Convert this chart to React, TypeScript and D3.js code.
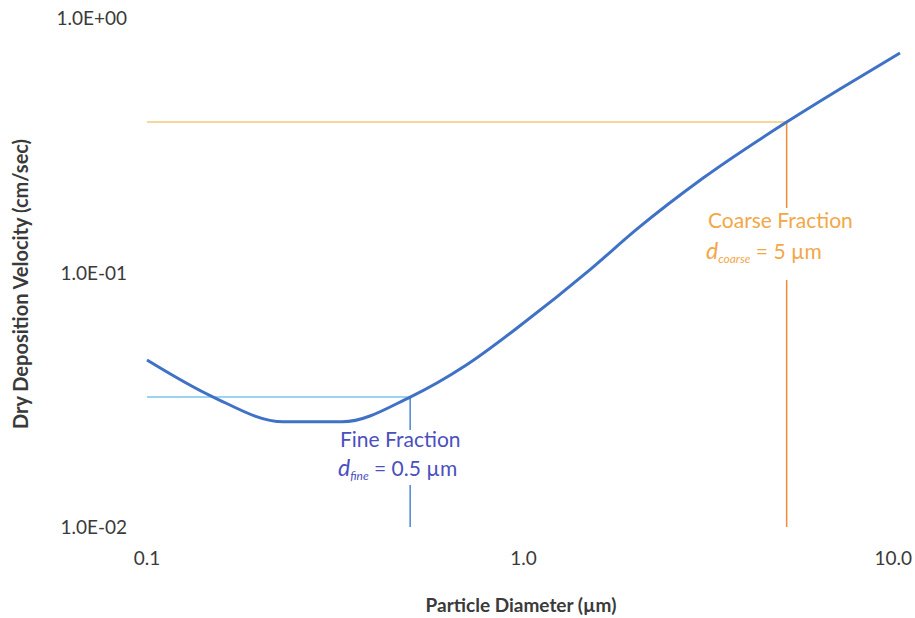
import * as d3 from 'd3';
import { useEffect, useRef } from 'react';

// particle diameter (um) and dry deposition velocity (cm/sec)
const diameters = [0.1, 0.15, 0.23, 0.33, 0.5, 0.7, 1.0, 1.5, 2.0, 3.0, 5.0, 7.0, 10.0];
const velocities = [0.0453, 0.0324, 0.0259, 0.0259, 0.0324, 0.043, 0.0633, 0.1024, 0.148, 0.235, 0.39, 0.531, 0.729];

const xTicks = [0.1, 1, 10];
const xTickLabels = ['0.1', '1.0', '10.0'];
const yTicks = [0.01, 0.1, 1];
const yTickLabels = ['1.0E-02', '1.0E-01', '1.0E+00'];

const fineD = 0.5;
const fineV = 0.0324;
const coarseD = 5;
const coarseV = 0.39;

const FONT = 'Lato, "Open Sans", sans-serif';

export default function App() {
  const ref = useRef<SVGSVGElement>(null);

  useEffect(() => {
    if (!ref.current) return;
    const svg = d3.select(ref.current);
    svg.selectAll('*').remove();

    const x = d3.scaleLog().domain([0.1, 10]).range([147, 900]);
    const y = d3.scaleLog().domain([0.01, 1]).range([527, 18]);

    // reference lines - coarse
    svg
      .append('line')
      .attr('x1', x(0.1))
      .attr('x2', x(coarseD))
      .attr('y1', y(coarseV))
      .attr('y2', y(coarseV))
      .attr('stroke', '#f6c777')
      .attr('stroke-width', 1.5);
    svg
      .append('line')
      .attr('x1', x(coarseD))
      .attr('x2', x(coarseD))
      .attr('y1', y(coarseV))
      .attr('y2', y(0.01))
      .attr('stroke', '#f08a3c')
      .attr('stroke-width', 1.5);

    // reference lines - fine
    svg
      .append('line')
      .attr('x1', x(0.1))
      .attr('x2', x(fineD))
      .attr('y1', y(fineV))
      .attr('y2', y(fineV))
      .attr('stroke', '#7cc4ea')
      .attr('stroke-width', 1.5);
    svg
      .append('line')
      .attr('x1', x(fineD))
      .attr('x2', x(fineD))
      .attr('y1', y(fineV))
      .attr('y2', y(0.01))
      .attr('stroke', '#4a86d0')
      .attr('stroke-width', 1.5);

    // label boxes hide part of the vertical lines
    svg.append('rect').attr('x', x(coarseD) - 12).attr('y', 208).attr('width', 24).attr('height', 72).attr('fill', 'white');
    svg.append('rect').attr('x', x(fineD) - 12).attr('y', 430).attr('width', 24).attr('height', 55).attr('fill', 'white');

    // curve
    const line = d3
      .line<number>()
      .x((d) => x(d))
      .y((_, i) => y(velocities[i]))
      .curve(d3.curveMonotoneX);
    svg
      .append('path')
      .datum(diameters)
      .attr('d', line)
      .attr('fill', 'none')
      .attr('stroke', '#3f72c6')
      .attr('stroke-width', 3)
      .attr('stroke-linejoin', 'round');

    // annotations
    const coarse = svg.append('g').attr('font-family', FONT).attr('font-size', 21).attr('fill', '#f2a748');
    coarse.append('text').attr('x', 708).attr('y', 228).text('Coarse Fraction');
    const ct = coarse.append('text').attr('x', 706).attr('y', 259);
    ct.append('tspan').attr('font-style', 'italic').attr('font-size', 23).text('d');
    ct.append('tspan').attr('font-size', 12).attr('font-style', 'italic').attr('dy', 4).text('coarse');
    ct.append('tspan').attr('dy', -4).text(' = 5 µm');

    const fine = svg.append('g').attr('font-family', FONT).attr('font-size', 21).attr('fill', '#4b4fc0');
    fine.append('text').attr('x', 340).attr('y', 447).text('Fine Fraction');
    const ft = fine.append('text').attr('x', 338).attr('y', 476);
    ft.append('tspan').attr('font-style', 'italic').attr('font-size', 23).text('d');
    ft.append('tspan').attr('font-size', 12).attr('font-style', 'italic').attr('dy', 4).text('fine');
    ft.append('tspan').attr('dy', -4).text(' = 0.5 µm');

    // y tick labels
    svg
      .append('g')
      .selectAll('text')
      .data(yTicks)
      .join('text')
      .attr('x', 127)
      .attr('y', (d) => y(d) + 7)
      .attr('text-anchor', 'end')
      .attr('font-family', FONT)
      .attr('font-size', 19)
      .attr('fill', '#3a3a3a')
      .text((_, i) => yTickLabels[i]);

    // x tick labels (last one kept inside the frame)
    svg
      .append('g')
      .selectAll('text')
      .data(xTicks)
      .join('text')
      .attr('x', (d, i) => (i === xTicks.length - 1 ? x(d) + 12 : x(d)))
      .attr('y', 565)
      .attr('text-anchor', (_, i) => (i === xTicks.length - 1 ? 'end' : 'middle'))
      .attr('font-family', FONT)
      .attr('font-size', 19)
      .attr('fill', '#3a3a3a')
      .text((_, i) => xTickLabels[i]);

    // axis titles
    svg
      .append('text')
      .attr('x', 521)
      .attr('y', 612)
      .attr('text-anchor', 'middle')
      .attr('font-family', FONT)
      .attr('font-size', 19)
      .attr('font-weight', 'bold')
      .attr('fill', '#3a3a3a')
      .text('Particle Diameter (µm)');
    svg
      .append('text')
      .attr('transform', 'translate(28,284) rotate(-90)')
      .attr('text-anchor', 'middle')
      .attr('font-family', FONT)
      .attr('font-size', 20)
      .attr('font-weight', 'bold')
      .attr('fill', '#3a3a3a')
      .text('Dry Deposition Velocity (cm/sec)');
  }, []);

  return (
    <svg
      ref={ref}
      width={915}
      height={618}
      style={{ position: 'absolute', left: 0, top: 0, background: 'white' }}
    />
  );
}
